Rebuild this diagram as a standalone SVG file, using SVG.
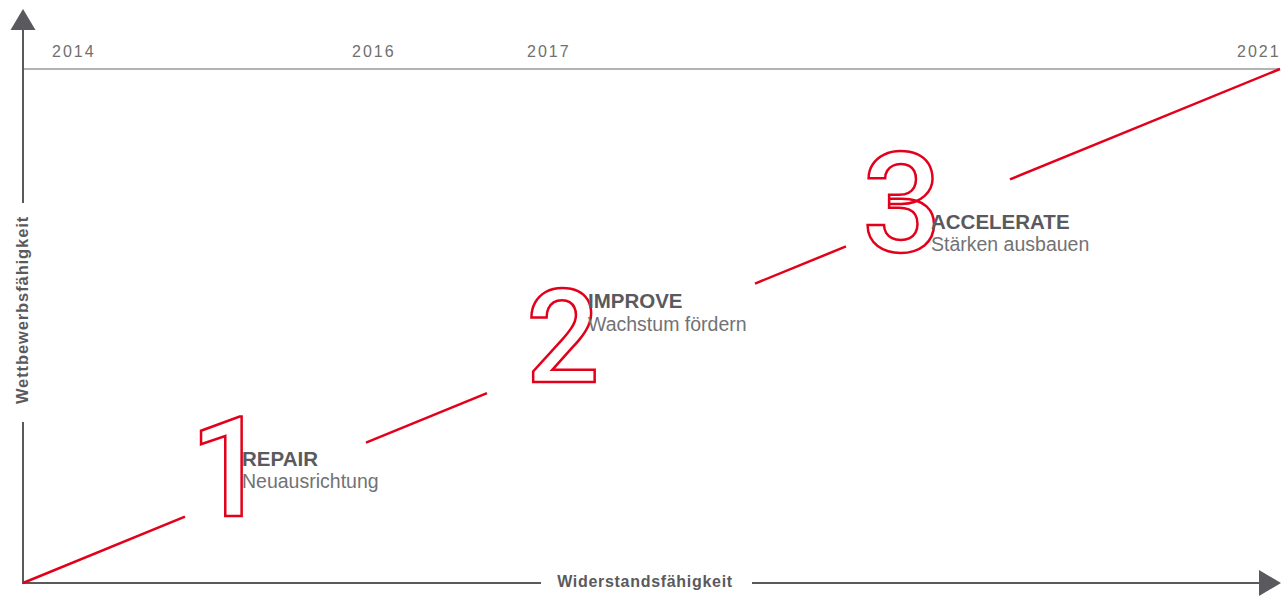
<svg xmlns="http://www.w3.org/2000/svg" width="1287" height="614" viewBox="0 0 1287 614">
<style>
.axis{stroke:#5a5a5e;stroke-width:2;fill:none}
.grid{stroke:#9a9a9a;stroke-width:1.5;fill:none}
.red{stroke:#e2001a;stroke-width:2.5;fill:none}
.year{font-family:"Liberation Sans",Arial,sans-serif;font-size:16px;letter-spacing:2px;fill:#707070}
.axlabel{font-family:"Liberation Sans",Arial,sans-serif;font-size:16px;font-weight:bold;letter-spacing:0.7px;fill:#5a5a5e}
.digit{font-family:Roboto,"Liberation Sans",sans-serif;font-weight:500;fill:#fff;stroke:#e2001a;stroke-width:2.5}
.title{font-family:"Liberation Sans",Arial,sans-serif;font-size:20.5px;font-weight:bold;fill:#5a5a5e}
.sub{font-family:"Liberation Sans",Arial,sans-serif;font-size:19.5px;fill:#727275}
</style>
<g id="axes">
<line class="grid" x1="23" y1="69" x2="1280" y2="69"/>
<line class="axis" x1="23" y1="28" x2="23" y2="203"/>
<line class="axis" x1="23" y1="422" x2="23" y2="584"/>
<line class="axis" x1="22" y1="583" x2="541" y2="583"/>
<line class="axis" x1="752" y1="583" x2="1262" y2="583"/>
<polygon points="23,9 10.5,30 35.5,30" fill="#5a5a5e"/>
<polygon points="1259,570 1259,596 1281,583" fill="#5a5a5e"/>
<text class="axlabel" x="645" y="587" text-anchor="middle">Widerstandsfähigkeit</text>
<text class="axlabel" transform="translate(28,310) rotate(-90)" text-anchor="middle" style="font-size:16.5px;letter-spacing:0.9px">Wettbewerbsfähigkeit</text>
</g>
<g id="years">
<text class="year" x="52" y="56.5">2014</text>
<text class="year" x="352" y="56.5">2016</text>
<text class="year" x="527" y="56.5">2017</text>
<text class="year" x="1237" y="56.5">2021</text>
</g>
<g id="connectors">
<line class="red" x1="23" y1="583" x2="185" y2="516.7"/>
<line class="red" x1="366" y1="442.7" x2="487" y2="393.2"/>
<line class="red" x1="755" y1="283.6" x2="846" y2="246.4"/>
<line class="red" x1="1010" y1="179.3" x2="1280" y2="69"/>
</g>
<g id="step1">
<text class="digit" x="229" y="516" font-size="139" text-anchor="middle">1</text>
<text class="title" x="242" y="466">REPAIR</text>
<text class="sub" x="242" y="488">Neuausrichtung</text>
</g>
<g id="step2">
<text class="digit" x="563" y="382" font-size="129" text-anchor="middle">2</text>
<text class="title" x="588" y="308">IMPROVE</text>
<text class="sub" x="588" y="331">Wachstum fördern</text>
</g>
<g id="step3">
<text class="digit" x="902" y="252" font-size="140" text-anchor="middle">3</text>
<text class="title" x="931" y="229">ACCELERATE</text>
<text class="sub" x="931" y="251">Stärken ausbauen</text>
</g>
</svg>
